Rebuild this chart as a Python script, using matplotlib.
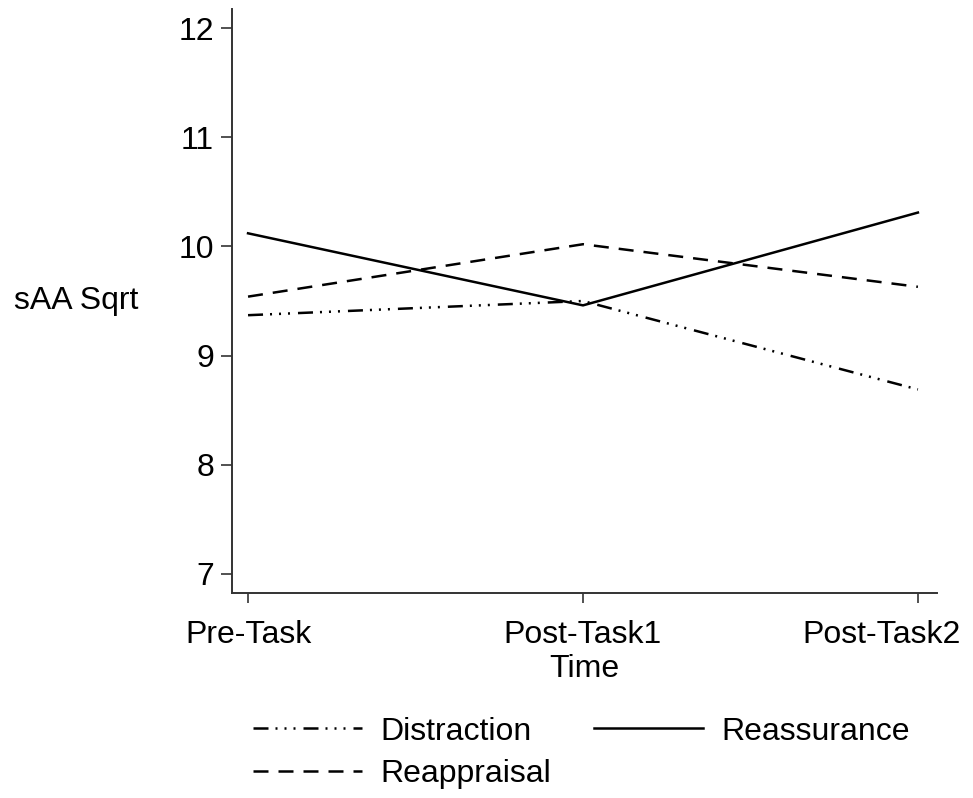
'''Line chart of sAA Sqrt over time for three emotion regulation groups.'''

import matplotlib
matplotlib.use('Agg')
import matplotlib.pyplot as plt
import matplotlib.transforms as mtransforms

# Data
time_labels = ['Pre-Task', 'Post-Task1', 'Post-Task2']
distraction = [9.37, 9.50, 8.69]
reappraisal = [9.54, 10.02, 9.63]
reassurance = [10.12, 9.46, 10.31]
y_ticks = [7, 8, 9, 10, 11, 12]

FONT = 23


def main():
    '''Draw the chart and save it as out.png.'''
    plt.rcParams['font.family'] = ['Liberation Sans', 'DejaVu Sans']

    fig = plt.figure(figsize=(9.73, 7.98), dpi=100)
    ax = fig.add_axes([0.2384, 0.2569, 0.7246, 0.7318])

    x = range(len(time_labels))
    lw = 1.8
    ax.plot(x, distraction, color='black', linewidth=lw,
            linestyle=(0, (6, 2.8, 0.8, 2.8, 0.8, 2.8, 0.8, 3.2)),
            label='Distraction')
    ax.plot(x, reappraisal, color='black', linewidth=lw,
            linestyle=(0, (6, 4)), label='Reappraisal')
    ax.plot(x, reassurance, color='black', linewidth=lw,
            linestyle='-', label='Reassurance')

    ax.set_xlim(-0.048, 2.057)
    ax.set_ylim(6.826, 12.174)
    ax.set_xticks(list(x))
    ax.set_xticklabels(time_labels)
    ax.set_yticks(y_ticks)

    for side in ('top', 'right'):
        ax.spines[side].set_visible(False)
    for side in ('left', 'bottom'):
        ax.spines[side].set_color('#333333')
        ax.spines[side].set_linewidth(1.4)

    ax.tick_params(axis='x', length=7.5, width=1.2, color='#333333',
                   labelsize=FONT, pad=12)
    ax.tick_params(axis='y', length=8, width=1.2, color='#333333',
                   labelsize=FONT, pad=5)

    # Last tick label is pulled left so it stays inside the figure
    last = ax.get_xticklabels()[-1]
    shift = mtransforms.ScaledTranslation(-0.36, 0, fig.dpi_scale_trans)
    last.set_transform(last.get_transform() + shift)

    ax.set_ylabel('sAA Sqrt', fontsize=FONT, rotation=0,
                  ha='center', va='center')
    ax.yaxis.set_label_coords(-0.221, 0.5)
    ax.set_xlabel('Time', fontsize=FONT, va='top')
    ax.xaxis.set_label_coords(0.5, -0.104)

    fig.legend(loc='upper left', bbox_to_anchor=(0.26, 0.102), ncol=2,
               frameon=False, fontsize=FONT, handlelength=3.42,
               handletextpad=0.56, columnspacing=1.35, labelspacing=0.4,
               borderpad=0, borderaxespad=0)

    fig.savefig('out.png', dpi=100)


if __name__ == "__main__":
    main()
